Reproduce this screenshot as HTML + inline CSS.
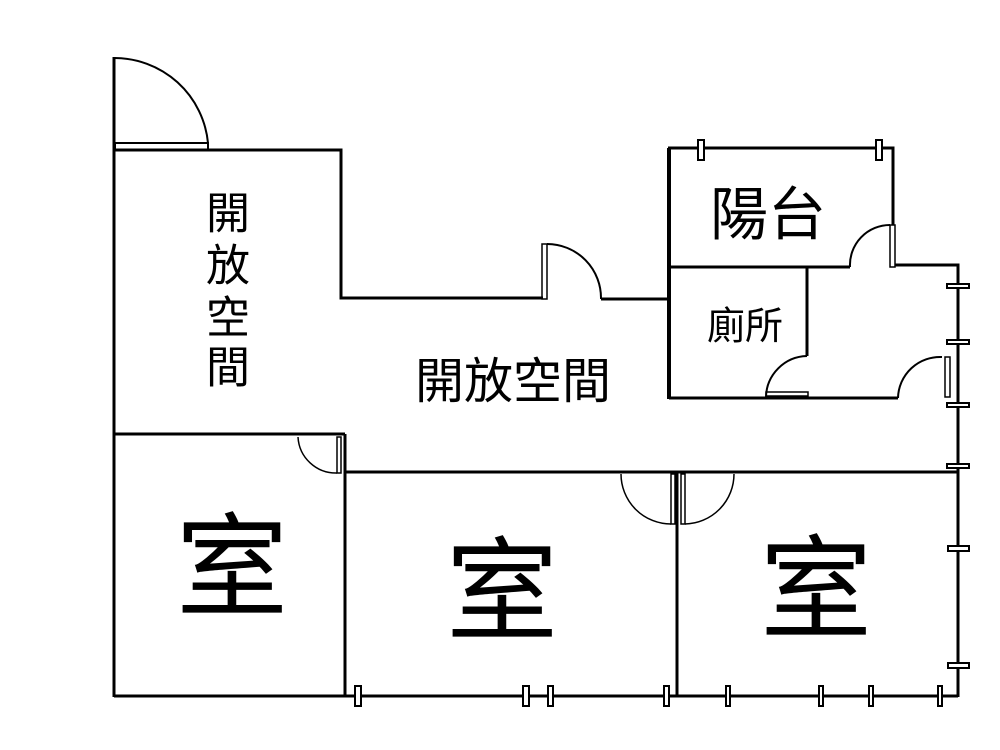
<!DOCTYPE html>
<html><head><meta charset="utf-8"><style>
html,body{margin:0;padding:0;background:#fff;}
svg{display:block;}
text{font-family:"Liberation Sans","Noto Sans CJK TC",sans-serif;fill:#000;text-anchor:middle;dominant-baseline:central;}
</style></head><body>
<svg width="1000" height="750" viewBox="0 0 1000 750" xmlns="http://www.w3.org/2000/svg">
<g fill="none" stroke="#000" stroke-width="3">
<!-- left outer wall -->
<line x1="114" y1="57" x2="114" y2="697"/>
<!-- entry door -->
<path d="M114,58 A94,94 0 0 1 208,143" stroke-width="2"/>
<rect x="115" y="143" width="93" height="7" stroke-width="2"/>
<polyline points="114,150 341,150 341,298 543,298"/>
<!-- door mid -->
<rect x="542" y="244" width="5" height="55" stroke-width="1.5"/>
<path d="M547,244 A54,54 0 0 1 601,299" stroke-width="2"/>
<line x1="601" y1="299" x2="668" y2="299"/>
<!-- bathroom/balcony block -->
<line x1="669" y1="148" x2="669" y2="399" stroke-width="4"/>
<polyline points="668,148 893,148 893,225"/>
<rect x="890" y="225" width="5" height="42" stroke-width="1.5"/>
<path d="M890,225 A40,40 0 0 0 850,267" stroke-width="2"/>
<line x1="669" y1="267" x2="850" y2="267"/>
<polyline points="895,265 958,265 958,697"/>
<polyline points="807,267 807,356"/>
<path d="M807,356 A42,42 0 0 0 766,397" stroke-width="2"/>
<rect x="766" y="392" width="42" height="4" stroke-width="1.5"/>
<line x1="669" y1="398" x2="898" y2="398"/>
<path d="M898,398 A42,42 0 0 1 942,357" stroke-width="2"/>
<rect x="945" y="357" width="5" height="40" stroke-width="1.5"/>
<!-- rooms -->
<line x1="114" y1="434" x2="345" y2="434"/>
<line x1="345" y1="434" x2="345" y2="697"/>
<rect x="337" y="437" width="4" height="36" stroke-width="1.5"/>
<path d="M337,473 A38,38 0 0 1 298,437" stroke-width="1.5"/>
<line x1="345" y1="472" x2="958" y2="472"/>
<line x1="677" y1="472" x2="677" y2="697"/>
<rect x="671" y="474" width="4" height="50" stroke-width="1.5"/>
<path d="M671,524 A50,50 0 0 1 621,474" stroke-width="1.5"/>
<rect x="681" y="474" width="4" height="50" stroke-width="1.5"/>
<path d="M685,524 A50,50 0 0 0 734,474" stroke-width="1.5"/>
<line x1="114" y1="696" x2="958" y2="696"/>
</g>
<!-- window ticks -->
<g fill="#fff" stroke="#000" stroke-width="2">
<rect x="355" y="686" width="6" height="20"/>
<rect x="523" y="686" width="6" height="20"/>
<rect x="548" y="686" width="5" height="20"/>
<rect x="664" y="686" width="5" height="20"/>
<rect x="726" y="686" width="4" height="20"/>
<rect x="819" y="686" width="4" height="20"/>
<rect x="869" y="686" width="4" height="20"/>
<rect x="938" y="686" width="4" height="20"/>
<rect x="947" y="284" width="22" height="4"/>
<rect x="947" y="340" width="22" height="4"/>
<rect x="947" y="403" width="22" height="4"/>
<rect x="947" y="464" width="22" height="4"/>
<rect x="948" y="546" width="21" height="5"/>
<rect x="948" y="663" width="21" height="5"/>
<rect x="698" y="140" width="6" height="20"/>
<rect x="876" y="140" width="6" height="20"/>
</g>
<g>
<text x="228" y="214" font-size="44">開</text>
<text x="228" y="266" font-size="44">放</text>
<text x="228" y="318" font-size="44">空</text>
<text x="228" y="368" font-size="44">間</text>
<text x="513" y="382" font-size="49">開放空間</text>
<text x="768" y="215" font-size="58">陽台</text>
<text x="745" y="327" font-size="38">廁所</text>
<text x="232" y="568" font-size="112">室</text>
<text x="502" y="592" font-size="112">室</text>
<text x="816" y="590" font-size="112">室</text>
</g>
</svg>
</body></html>
